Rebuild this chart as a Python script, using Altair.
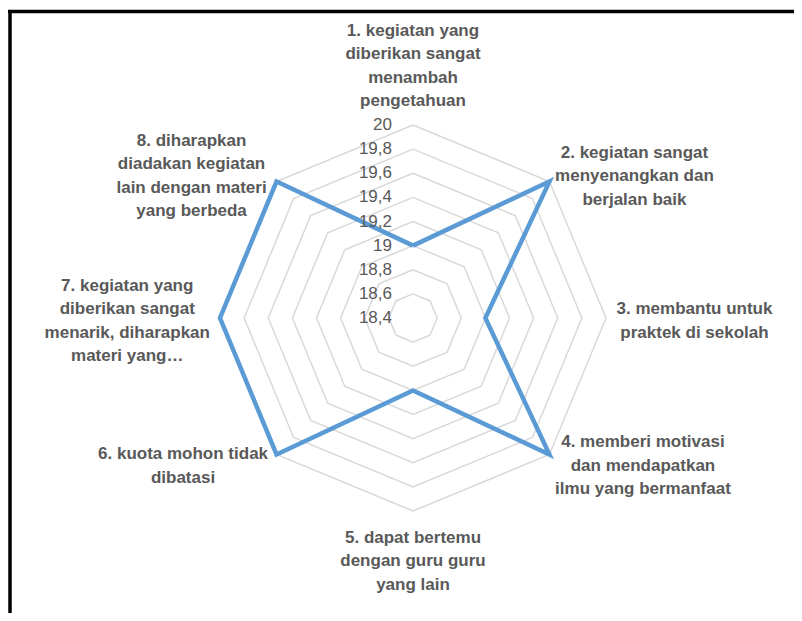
import math
import altair as alt
import pandas as pd

# ---- data ----
categories = [
    "1. kegiatan yang\ndiberikan sangat\nmenambah\npengetahuan",
    "2. kegiatan sangat\nmenyenangkan dan\nberjalan baik",
    "3. membantu untuk\npraktek di sekolah",
    "4. memberi motivasi\ndan mendapatkan\nilmu yang bermanfaat",
    "5. dapat bertemu\ndengan guru guru\nyang lain",
    "6. kuota mohon tidak\ndibatasi",
    "7. kegiatan yang\ndiberikan sangat\nmenarik, diharapkan\nmateri yang…",
    "8. diharapkan\ndiadakan kegiatan\nlain dengan materi\nyang berbeda",
]
values = [19, 20, 19, 20, 19, 20, 20, 20]
tick_values = [18.4, 18.6, 18.8, 19.0, 19.2, 19.4, 19.6, 19.8, 20.0]
tick_labels = ["18,4", "18,6", "18,8", "19", "19,2", "19,4", "19,6", "19,8", "20"]

# ---- layout ----
W, H = 786, 605
CX, CY = 413, 318          # page coords of radar centre
R = 193                    # outer radius in px
RMIN, RMAX = tick_values[0], tick_values[-1]
N = len(categories)
TEXT = "#595959"
FONT = "Liberation Sans"
LH = 23.5

xscale = alt.Scale(domain=[8 - CX, 8 + W - CX], range=[0, W], nice=False, zero=False)
yscale = alt.Scale(domain=[CY - 8 - H, CY - 8], range=[H, 0], nice=False, zero=False)


def polar_calc(chart):
    return chart.transform_calculate(
        ang=f"datum.idx * 2 * PI / {N}",
        rad=f"(datum.value - {RMIN}) / ({RMAX} - {RMIN}) * {R}",
    ).transform_calculate(
        px="datum.rad * sin(datum.ang)",
        py="datum.rad * cos(datum.ang)",
    )

# rings
ring_rows = []
for lv in tick_values[1:]:
    for k in range(N + 1):
        ring_rows.append({"level": lv, "idx": k, "value": lv})
ring_df = pd.DataFrame(ring_rows)

# series (closed)
series_df = pd.DataFrame({
    "idx": list(range(N + 1)),
    "value": values + [values[0]],
})

# tick labels
tick_df = pd.DataFrame({"idx": [0] * len(tick_values), "value": tick_values, "label": tick_labels})

# category label anchors derived from axis angles
lab_rows = []
for i, cat in enumerate(categories):
    a = 2 * math.pi * i / N
    s, c = math.sin(a), math.cos(a)
    lines = cat.split("\n")
    w = max(len(l) for l in lines) * 8.5
    h = len(lines) * LH
    if abs(s) < 0.01:
        lx = 0.0
        ly = c * ((205 if c > 0 else 208) + h / 2)
    else:
        lx = 205 * s + math.copysign(w / 2, s)
        ly = 205 * c - 3
    # Vega places the first line at the anchor: shift so the block is centred
    ly += (len(lines) - 1) * LH / 2
    lab_rows.append({"label": cat, "lx": lx, "ly": ly})
lab_df = pd.DataFrame(lab_rows)

enc_xy = dict(
    x=alt.X("px:Q", scale=xscale, axis=None),
    y=alt.Y("py:Q", scale=yscale, axis=None),
)

rings = polar_calc(alt.Chart(ring_df)).mark_line(
    color="#d9d9d9", strokeWidth=1.5
).encode(detail="level:N", order="idx:Q", **enc_xy)

series = polar_calc(alt.Chart(series_df)).mark_line(
    color="#5b9bd5", strokeWidth=4.5, strokeJoin="miter"
).encode(order="idx:Q", **enc_xy)

ticks = polar_calc(alt.Chart(tick_df)).transform_calculate(
    tx="-21"
).mark_text(
    align="right", baseline="middle", fontSize=17, font=FONT, color=TEXT
).encode(
    x=alt.X("tx:Q", scale=xscale, axis=None),
    y=alt.Y("py:Q", scale=yscale, axis=None),
    text="label:N",
)

labels = alt.Chart(lab_df).mark_text(
    align="center", baseline="middle", fontSize=17, fontWeight="bold",
    font=FONT, color=TEXT, lineBreak="\n", lineHeight=LH
).encode(
    x=alt.X("lx:Q", scale=xscale, axis=None),
    y=alt.Y("ly:Q", scale=yscale, axis=None),
    text="label:N",
)

frame_top = alt.Chart(pd.DataFrame({"a": [0]})).mark_rule(
    color="black", strokeWidth=3.5
).encode(x=alt.value(0), x2=alt.value(W), y=alt.value(3.5))
frame_left = alt.Chart(pd.DataFrame({"a": [0]})).mark_rule(
    color="black", strokeWidth=3.5
).encode(x=alt.value(2), y=alt.value(2), y2=alt.value(H))

chart = alt.layer(rings, series, ticks, labels, frame_top, frame_left).properties(
    width=W, height=H, padding=0, autosize=alt.AutoSizeParams(type="none"),
    background="white",
).configure_view(stroke=None)

chart.save("out.html", embed_options={"renderer": "svg", "actions": False})
